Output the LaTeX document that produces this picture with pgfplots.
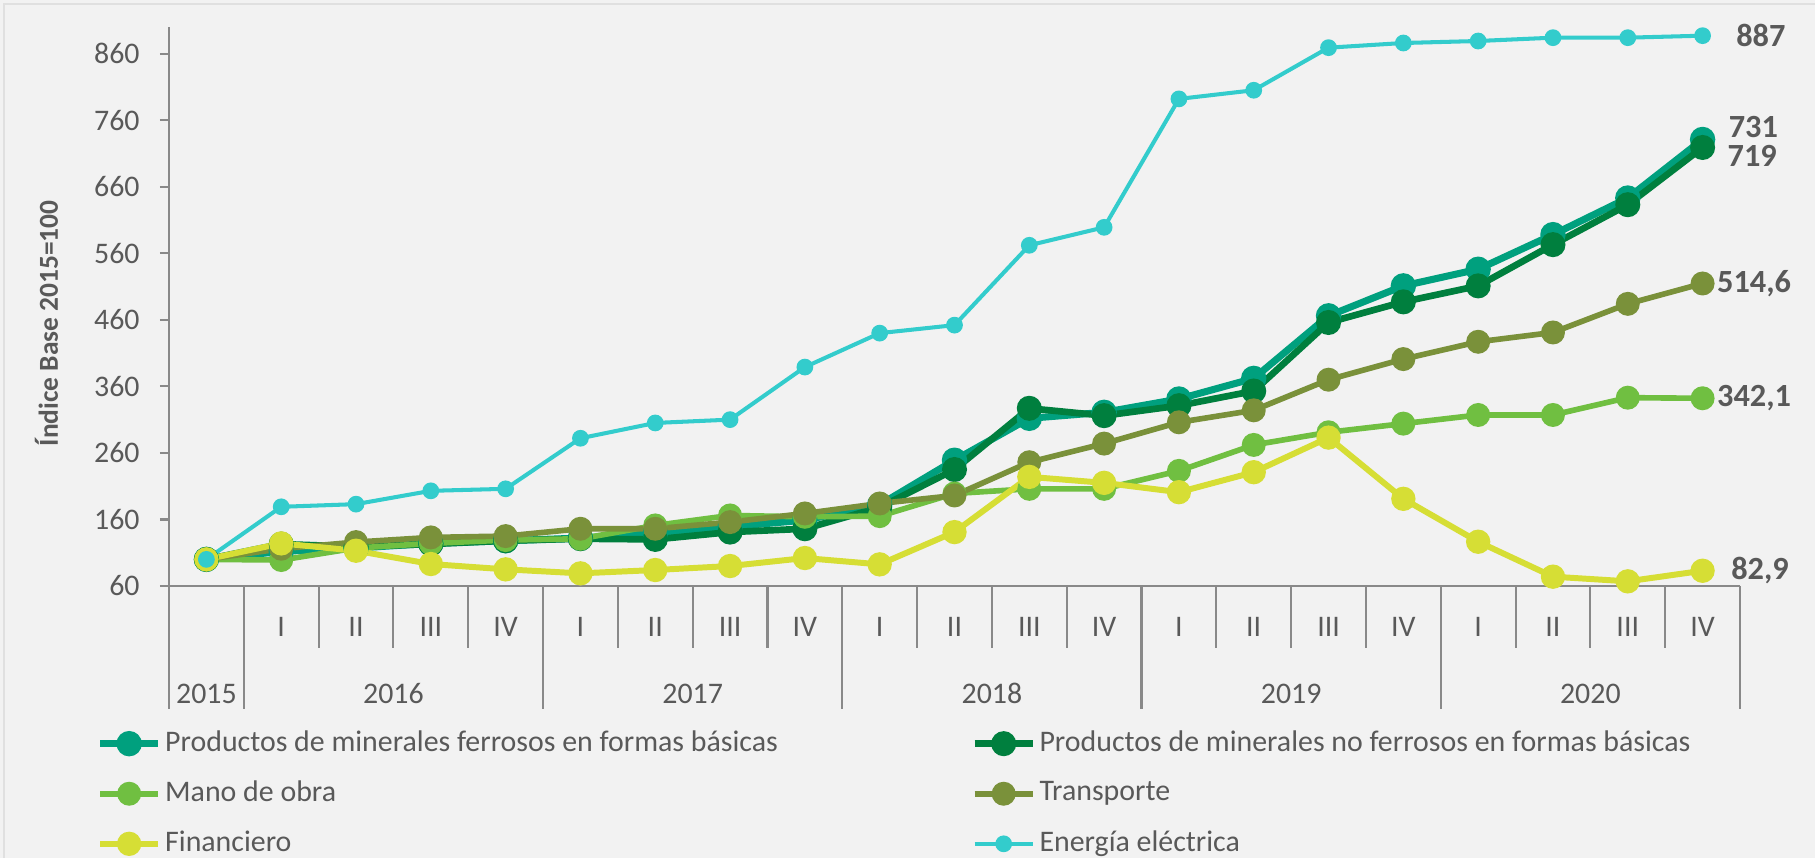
\documentclass[border=0pt]{standalone}
\usepackage{fontspec}
\setmainfont{Carlito}
\usepackage{pgfplots}
\pgfplotsset{compat=1.18}
\definecolor{bgcol}{HTML}{F2F2F2}
\definecolor{txtgray}{HTML}{595959}
\definecolor{axgray}{HTML}{898989}
\definecolor{ferroso}{HTML}{00A07E}
\definecolor{noferroso}{HTML}{007F3E}
\definecolor{manoobra}{HTML}{70BF41}
\definecolor{transp}{HTML}{7A913A}
\definecolor{financ}{HTML}{D6DE35}
\definecolor{energia}{HTML}{33CCCC}

\begin{document}
\begin{tikzpicture}
% fondo de la figura (1815x858 px -> 18.15x8.58 cm)
\fill[bgcol] (-1.69,-2.72) rectangle (16.46,5.86);
\draw[black!12, line width=0.8pt] (-1.65,-2.72) -- (-1.65,5.82) -- (16.46,5.82);
\begin{axis}[
    at={(0,0)}, anchor=south west,
    scale only axis,
    width=15.71cm, height=5.59cm,
    xmin=-0.5, xmax=20.5,
    ymin=60, ymax=900,
    ytick={60,160,...,860},
    xtick={0,...,20},
    xticklabels={,I,II,III,IV,I,II,III,IV,I,II,III,IV,I,II,III,IV,I,II,III,IV},
    minor xtick={1.5,2.5,3.5,5.5,6.5,7.5,9.5,10.5,11.5,13.5,14.5,15.5,17.5,18.5,19.5},
    minor tick length=0.62cm,
    major tick length=0.09cm,
    tick align=outside,
    xtick style={draw=none},
    minor x tick style={draw=axgray, line width=0.6pt},
    ytick style={draw=axgray, line width=0.6pt},
    axis x line*=bottom, axis y line*=left,
    axis line style={draw=axgray, line width=0.6pt, -},
    tick label style={font=\fontsize{8.5}{10}\selectfont, text=txtgray},
    /pgf/number format/assume math mode=true,
    yticklabel style={xshift=-0.08cm},
    xticklabel style={anchor=base, yshift=-0.42cm},
    ylabel={\textbf{Índice Base 2015=100}},
    ylabel style={at={(axis description cs:-0.078,0.47)}, anchor=center,
        font=\fontsize{7.8}{9}\selectfont, text=txtgray},
    clip=false,
    legend columns=2,
    legend cell align=left,
    legend style={at={(axis description cs:-0.0465,-0.245)}, anchor=north west,
        draw=none, fill=none, inner sep=0pt,
        font=\fontsize{8.5}{10}\selectfont, text=txtgray,
        row sep=0.1cm,
        nodes={inner xsep=1pt},
        /tikz/every even column/.append style={column sep=1.9cm}},
    legend image code/.code={
        \draw[mark repeat=2,mark phase=2] plot coordinates {(0cm,0cm) (0.29cm,0cm) (0.58cm,0cm)};},
    every axis plot/.append style={mark=*, mark options={draw=white, line width=0.6pt}},
]
\addplot[ferroso, line width=2pt, mark size=2.6pt, mark options={fill=ferroso}] coordinates {
(0,100) (1,112) (2,117) (3,124) (4,128) (5,132) (6,139) (7,149) (8,159) (9,182) (10,249)
(11,312) (12,321) (13,341) (14,372) (15,466) (16,511) (17,536) (18,588) (19,643) (20,731)}
node[pos=1, anchor=west, xshift=0.11cm, yshift=0.12cm, font=\bfseries\fontsize{9.2}{11}\selectfont, text=txtgray] {731};
\addlegendentry{Productos de minerales ferrosos en formas básicas}
\addplot[noferroso, line width=1.9pt, mark size=2.6pt, mark options={fill=noferroso}] coordinates {
(0,100) (1,123) (2,119) (3,123) (4,128) (5,131) (6,130) (7,141) (8,146) (9,178) (10,235)
(11,327) (12,316) (13,331) (14,353) (15,456) (16,487) (17,511) (18,573) (19,633) (20,719)}
node[pos=1, anchor=west, xshift=0.1cm, yshift=-0.08cm, font=\bfseries\fontsize{9.2}{11}\selectfont, text=txtgray] {719};
\addlegendentry{Productos de minerales no ferrosos en formas básicas}
\addplot[manoobra, line width=1.6pt, mark size=2.6pt, mark options={fill=manoobra}] coordinates {
(0,100) (1,99) (2,117) (3,124) (4,129) (5,131) (6,151) (7,166) (8,164) (9,165) (10,199)
(11,206) (12,206) (13,233) (14,272) (15,291) (16,304) (17,317) (18,317) (19,343) (20,342.1)}
node[pos=1, anchor=west, xshift=0.0cm, font=\bfseries\fontsize{9.2}{11}\selectfont, text=txtgray] {342,1};
\addlegendentry{Mano de obra}
\addplot[transp, line width=1.6pt, mark size=2.6pt, mark options={fill=transp}] coordinates {
(0,100) (1,116) (2,126) (3,133) (4,135) (5,146) (6,146) (7,156) (8,169) (9,184) (10,196)
(11,246) (12,274) (13,306) (14,324) (15,370) (16,401) (17,427) (18,441) (19,484) (20,514.6)}
node[pos=1, anchor=west, xshift=0.0cm, font=\bfseries\fontsize{9.2}{11}\selectfont, text=txtgray] {514,6};
\addlegendentry{Transporte}
\addplot[financ, line width=1.7pt, mark size=2.6pt, mark options={fill=financ}] coordinates {
(0,100) (1,124) (2,113) (3,93) (4,85) (5,79) (6,84) (7,90) (8,102) (9,92.5) (10,141)
(11,224) (12,215) (13,201) (14,231) (15,283) (16,191) (17,126.5) (18,74) (19,67) (20,82.9)}
node[pos=1, anchor=west, xshift=0.14cm, font=\bfseries\fontsize{9.2}{11}\selectfont, text=txtgray] {82,9};
\addlegendentry{Financiero}
\addplot[energia, line width=1.15pt, mark size=1.8pt, mark options={fill=energia}] coordinates {
(0,100) (1,179) (2,183) (3,203) (4,206) (5,282) (6,305) (7,310) (8,389) (9,440) (10,452)
(11,572) (12,599) (13,792) (14,805) (15,869) (16,876) (17,879) (18,884) (19,884) (20,887)}
node[pos=1, anchor=west, xshift=0.2cm, font=\bfseries\fontsize{9.2}{11}\selectfont, text=txtgray] {887};
\addlegendentry{Energía eléctrica}
% separadores largos entre años
\pgfplotsinvokeforeach{-0.5,0.5,4.5,8.5,12.5,16.5,20.5}{
  \draw[axgray, line width=0.6pt] (axis cs:#1,60) -- ([yshift=-1.23cm]axis cs:#1,60);
}
% etiquetas de año
\node[anchor=base, font=\fontsize{8.5}{10}\selectfont, text=txtgray, yshift=-1.18cm] at (axis cs:0,60) {2015};
\node[anchor=base, font=\fontsize{8.5}{10}\selectfont, text=txtgray, yshift=-1.18cm] at (axis cs:2.5,60) {2016};
\node[anchor=base, font=\fontsize{8.5}{10}\selectfont, text=txtgray, yshift=-1.18cm] at (axis cs:6.5,60) {2017};
\node[anchor=base, font=\fontsize{8.5}{10}\selectfont, text=txtgray, yshift=-1.18cm] at (axis cs:10.5,60) {2018};
\node[anchor=base, font=\fontsize{8.5}{10}\selectfont, text=txtgray, yshift=-1.18cm] at (axis cs:14.5,60) {2019};
\node[anchor=base, font=\fontsize{8.5}{10}\selectfont, text=txtgray, yshift=-1.18cm] at (axis cs:18.5,60) {2020};
\end{axis}
\pgfresetboundingbox
\useasboundingbox (-1.69,-2.72) rectangle (16.46,5.86);
\end{tikzpicture}
\end{document}
